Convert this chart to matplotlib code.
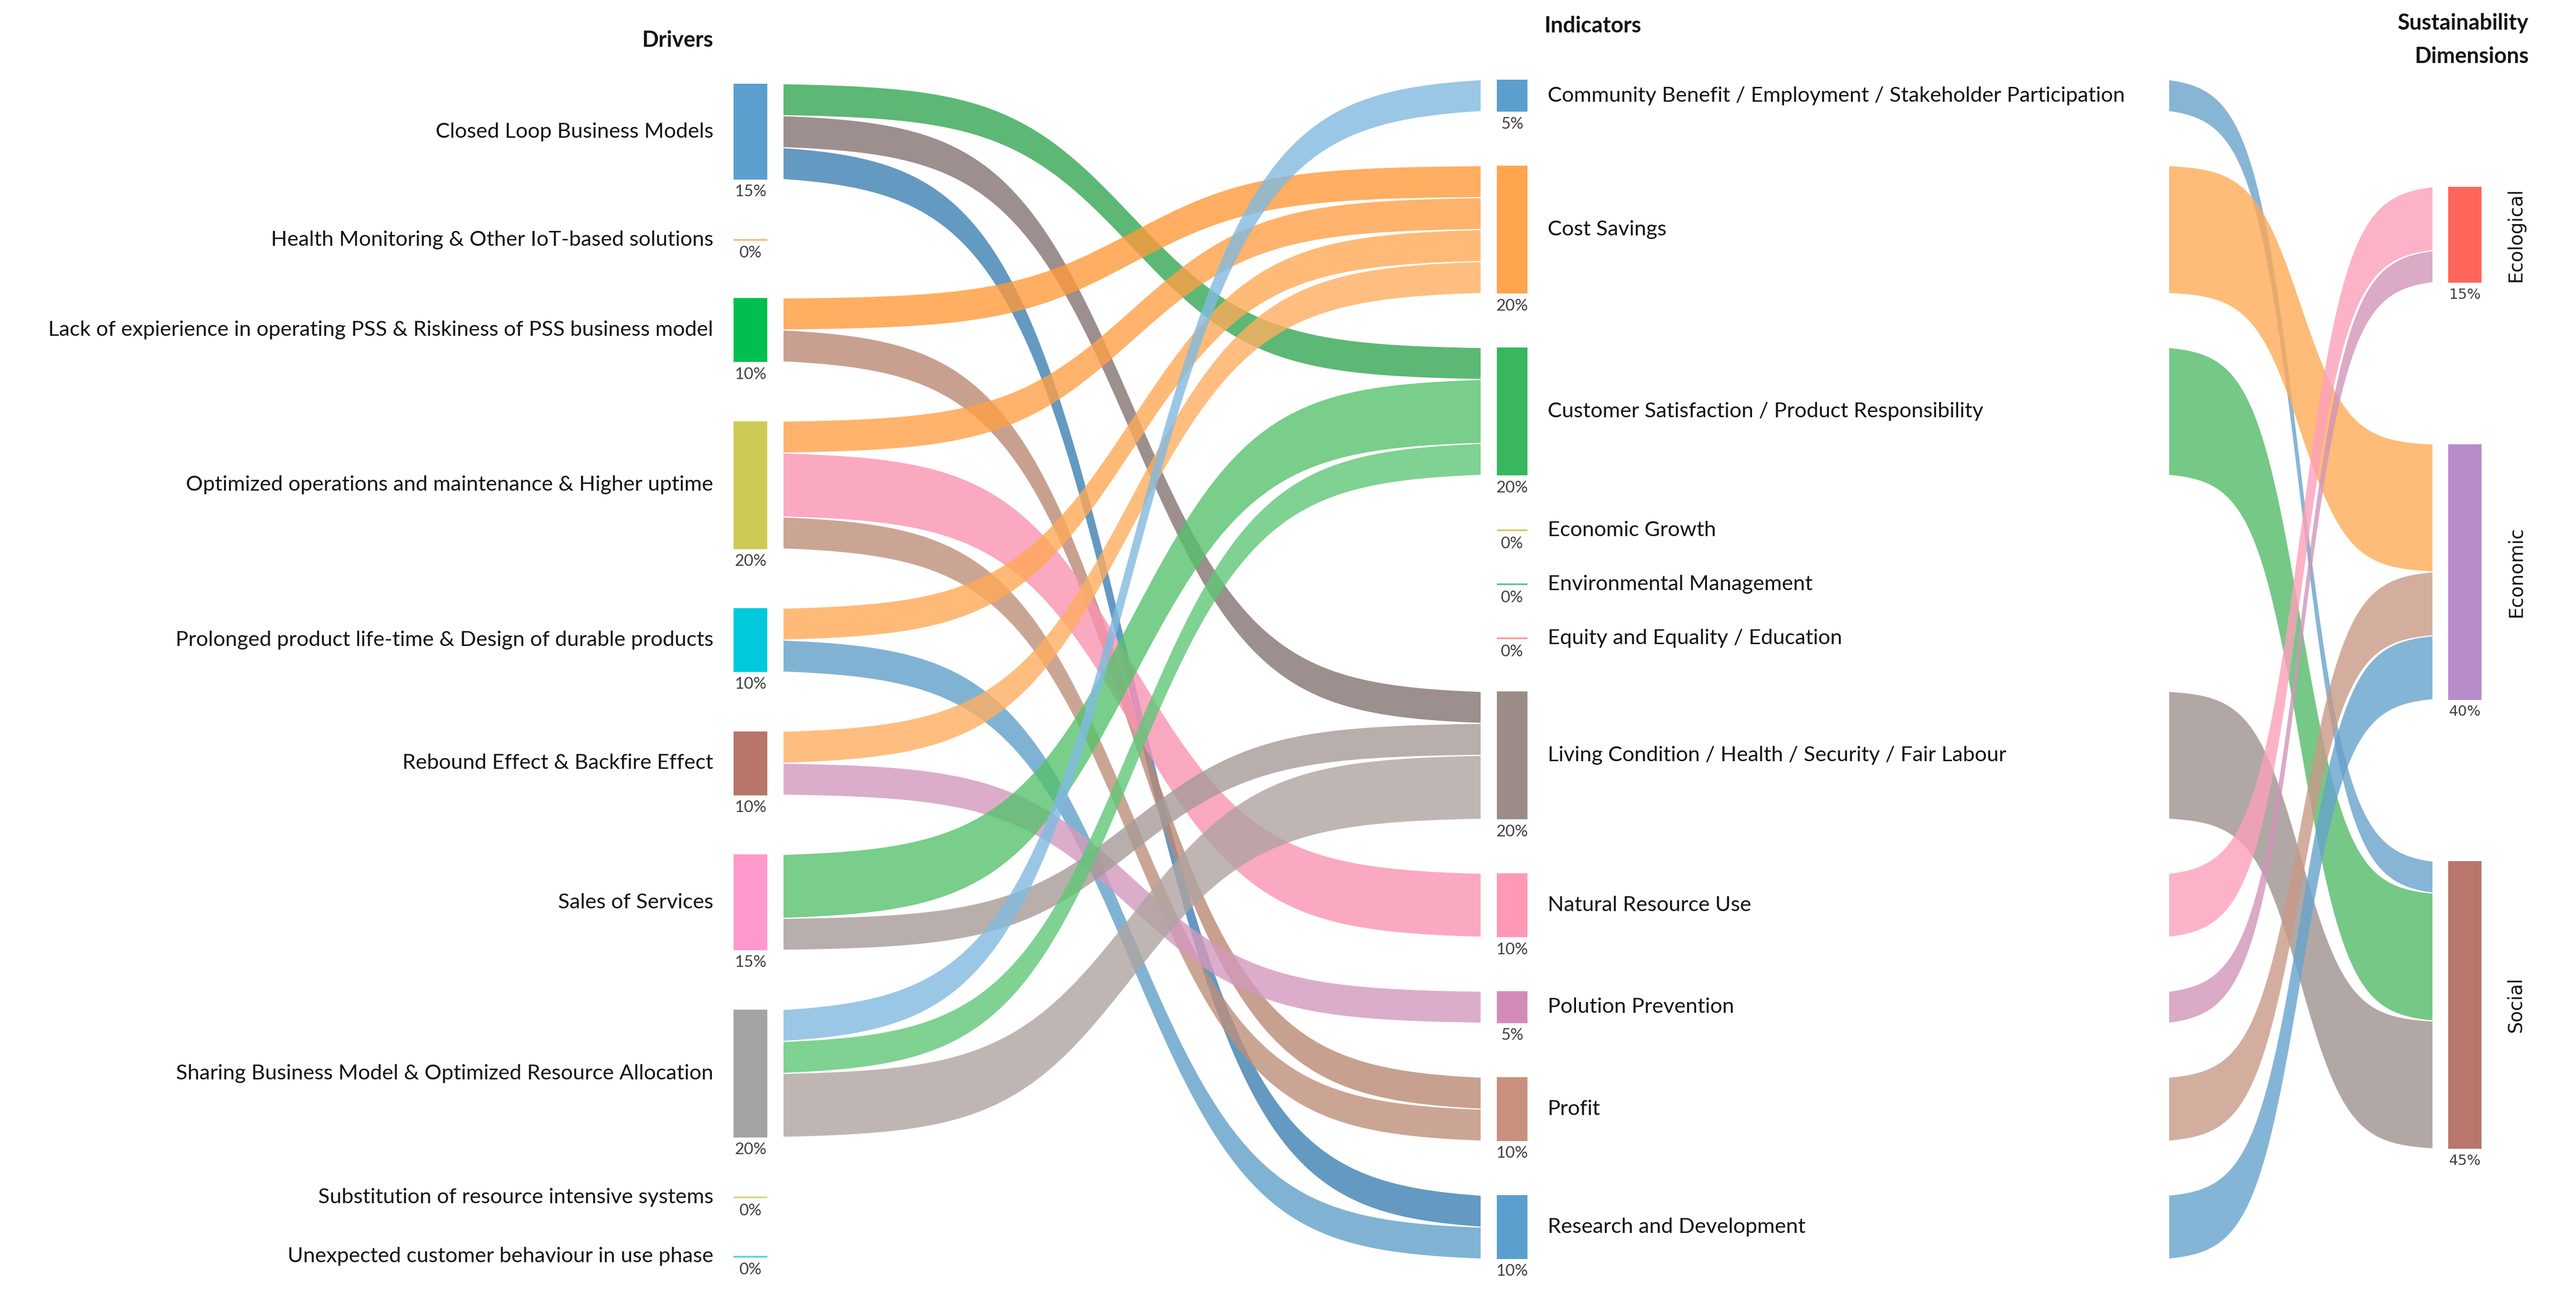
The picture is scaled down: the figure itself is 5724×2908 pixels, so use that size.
import matplotlib
matplotlib.use('Agg')
import matplotlib.pyplot as plt  # noqa: E402
import numpy as np  # noqa: E402
from matplotlib.colors import to_rgb  # noqa: E402
from matplotlib.patches import Rectangle  # noqa: E402

# ------------------------------------------------------------------
# Data: three-level sankey (shares in %)
# ------------------------------------------------------------------
drivers = [
    "Closed Loop Business Models",
    "Health Monitoring & Other IoT-based solutions",
    "Lack of expierience in operating PSS & Riskiness of PSS business model",
    "Optimized operations and maintenance & Higher uptime",
    "Prolonged product life-time & Design of durable products",
    "Rebound Effect & Backfire Effect",
    "Sales of Services",
    "Sharing Business Model & Optimized Resource Allocation",
    "Substitution of resource intensive systems",
    "Unexpected customer behaviour in use phase",
]
driver_share = [15, 0, 10, 20, 10, 10, 15, 20, 0, 0]

indicators = [
    "Community Benefit / Employment / Stakeholder Participation",
    "Cost Savings",
    "Customer Satisfaction / Product Responsibility",
    "Economic Growth",
    "Environmental Management",
    "Equity and Equality / Education",
    "Living Condition / Health / Security / Fair Labour",
    "Natural Resource Use",
    "Polution Prevention",
    "Profit",
    "Research and Development",
]
indicator_share = [5, 20, 20, 0, 0, 0, 20, 10, 5, 10, 10]

dimensions = ["Ecological", "Economic", "Social"]
dimension_share = [15, 40, 45]

# driver -> indicator links (index into drivers / indicators)
left_src = [0, 0, 0, 2, 2, 3, 3, 3, 4, 4, 5, 5, 6, 6, 7, 7, 7]
left_tgt = [2, 6, 10, 1, 9, 1, 7, 9, 1, 10, 1, 8, 2, 6, 0, 2, 6]
left_val = [5, 5, 5, 5, 5, 5, 10, 5, 5, 5, 5, 5, 10, 5, 5, 5, 10]

# indicator -> dimension links
right_src = [0, 1, 2, 6, 7, 8, 9, 10]
right_tgt = [2, 1, 2, 2, 0, 0, 1, 1]
right_val = [5, 20, 20, 20, 10, 5, 10, 10]

# ------------------------------------------------------------------
# Styling
# ------------------------------------------------------------------
driver_colors = ['#5b9fce', '#ffb878', '#00bf4f', '#cdcb55', '#00c9dc',
                 '#b87569', '#ff99cc', '#a3a3a3', '#d8d77e', '#5dd3e3']
indicator_colors = ['#5b9fce', '#ffa54e', '#38b75f', '#e8c462', '#6cbcbc',
                    '#ff9c9c', '#9c8b87', '#ff99b5', '#d38bb8', '#c7917d', '#5b9fce']
dimension_colors = ['#ff655a', '#b88bca', '#b8766c']

# colours as they appear on white (converted to a base colour for the alpha below)
left_link_colors = ['#5cb874', '#9c8f8d', '#6499c1', '#ffae62', '#c9a08f',
                    '#ffb36c', '#fca8c1', '#cba594', '#ffba78', '#80b3d4',
                    '#ffbe80', '#dcadca', '#78ce8a', '#b8afac', '#9ac8e6',
                    '#7fd292', '#bfb6b3']
right_link_colors = ['#87b5d5', '#ffbb78', '#75c986', '#b1a8a5',
                     '#fdb3c8', '#daaac8', '#d3ae9f', '#85b5d6']
LINK_ALPHA = 0.8

W, H = 5724, 2908
PX = 14.2                      # pixels per 1 %
ZERO_H = 4                     # drawn thickness of 0 % nodes

LABEL_FONT = ['Liberation Sans Narrow', 'Lato', 'DejaVu Sans']
LABEL_SIZE = 34
HEADER_SIZE = 35
PCT_SIZE = 26
TEXT_COLOR = '#141414'

col = {
    'drv': dict(x=1630, w=75, top=186, gap=131.5),
    'ind': dict(x=3326, w=68, top=177, gap=120),
    'dim': dict(x=5440, w=74, top=415, gap=358.5),
}
left_x = (1741, 3290)
right_x = (4820, 5405)


def base_color(hex_on_white, alpha):
    obs = np.array(to_rgb(hex_on_white))
    return tuple(np.clip((obs - (1 - alpha)) / alpha, 0, 1))


def stack(shares, top, gap):
    tops, y = [], top
    for s in shares:
        tops.append(y)
        y += s * PX + gap
    return tops


def sigmoid_band(ax, x0, x1, y0, y1, h, color):
    t = np.linspace(0, 1, 300)
    s = 1 / (1 + np.exp(-11 * (t - 0.5)))
    s = (s - s[0]) / (s[-1] - s[0])
    x = x0 + (x1 - x0) * t
    ytop = y0 + (y1 - y0) * s
    ax.fill_between(x, ytop + 1.2, ytop + h - 1.2, facecolor=color,
                    edgecolor='none', linewidth=0)


fig = plt.figure(figsize=(W / 100, H / 100), dpi=100)
ax = fig.add_axes([0, 0, 1, 1])
ax.set_xlim(0, W)
ax.set_ylim(H, 0)
ax.axis('off')

drv_top = stack(driver_share, col['drv']['top'], col['drv']['gap'])
ind_top = stack(indicator_share, col['ind']['top'], col['ind']['gap'])
dim_top = stack(dimension_share, col['dim']['top'], col['dim']['gap'])

# ---------------- links ----------------
out_off = [0.0] * len(drivers)
in_off = [0.0] * len(indicators)
for i, (s, t, v) in enumerate(zip(left_src, left_tgt, left_val)):
    h = v * PX
    sigmoid_band(ax, left_x[0], left_x[1], drv_top[s] + out_off[s],
                 ind_top[t] + in_off[t], h,
                 base_color(left_link_colors[i], LINK_ALPHA) + (LINK_ALPHA,))
    out_off[s] += h
    in_off[t] += h

out_off = [0.0] * len(indicators)
in_off = [0.0] * len(dimensions)
for i, (s, t, v) in enumerate(zip(right_src, right_tgt, right_val)):
    h = v * PX
    sigmoid_band(ax, right_x[0], right_x[1], ind_top[s] + out_off[s],
                 dim_top[t] + in_off[t], h,
                 base_color(right_link_colors[i], LINK_ALPHA) + (LINK_ALPHA,))
    out_off[s] += h
    in_off[t] += h


# ---------------- nodes ----------------
def draw_nodes(key, tops, shares, colors, pct_font, pct_size):
    c = col[key]
    centers = []
    for y, s, colr in zip(tops, shares, colors):
        h = s * PX if s > 0 else ZERO_H
        ax.add_patch(Rectangle((c['x'], y), c['w'], h, facecolor=colr,
                               edgecolor='none'))
        ax.text(c['x'] + c['w'] / 2, y + h + 27, f"{s}%", ha='center',
                va='center', fontsize=pct_size, family=pct_font, color='#404040')
        centers.append(y + h / 2)
    return centers


drv_c = draw_nodes('drv', drv_top, driver_share, driver_colors, LABEL_FONT, PCT_SIZE)
ind_c = draw_nodes('ind', ind_top, indicator_share, indicator_colors, LABEL_FONT, PCT_SIZE)
dim_c = draw_nodes('dim', dim_top, dimension_share, dimension_colors, ['DejaVu Sans'], 23)

labels = []
for name, yc in zip(drivers, drv_c):
    labels.append(ax.text(1585, yc, name, ha='right', va='center',
                          fontsize=LABEL_SIZE, family=LABEL_FONT, color=TEXT_COLOR))
for name, yc in zip(indicators, ind_c):
    labels.append(ax.text(3439, yc, name, ha='left', va='center',
                          fontsize=LABEL_SIZE, family=LABEL_FONT, color=TEXT_COLOR))
for name, yc in zip(dimensions, dim_c):
    ax.text(5590, yc, name, ha='center', va='center', rotation=90,
            fontsize=30, family=['DejaVu Sans'], color=TEXT_COLOR)

ax.text(1585, 89, "Drivers", ha='right', va='center', fontsize=HEADER_SIZE,
        fontweight='bold', family=LABEL_FONT, color=TEXT_COLOR)
ax.text(3431, 58, "Indicators", ha='left', va='center', fontsize=HEADER_SIZE,
        fontweight='bold', family=LABEL_FONT, color=TEXT_COLOR)
ax.text(5619, 51, "Sustainability", ha='right', va='center', fontsize=HEADER_SIZE,
        fontweight='bold', family=LABEL_FONT, color=TEXT_COLOR)
ax.text(5619, 125, "Dimensions", ha='right', va='center', fontsize=HEADER_SIZE,
        fontweight='bold', family=LABEL_FONT, color=TEXT_COLOR)

# keep the longest driver label inside the canvas whatever font was found
renderer = fig.canvas.get_renderer()
widest = max(t.get_window_extent(renderer).width for t in labels[:len(drivers)])
avail = 1585 - 30
if widest > avail:
    k = avail / widest
    for t in labels:
        t.set_fontsize(LABEL_SIZE * k)

fig.savefig('out.png', dpi=100, facecolor='white')
plt.close(fig)
